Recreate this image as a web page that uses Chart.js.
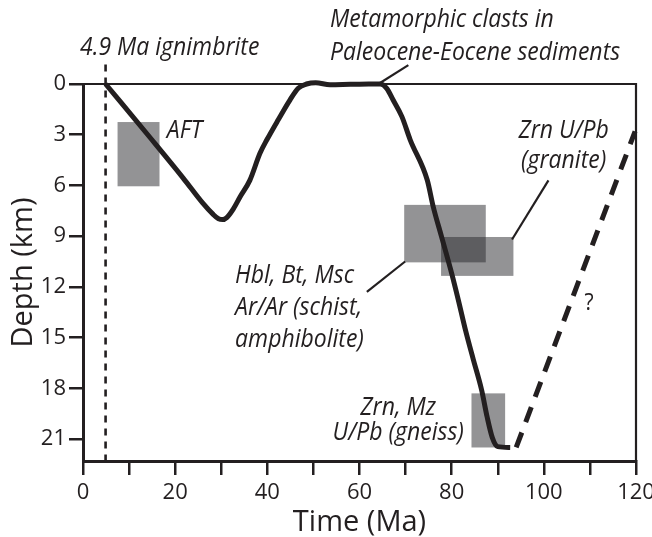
<!DOCTYPE html>
<html>
<head>
<meta charset="utf-8">
<script src="https://cdn.jsdelivr.net/npm/chart.js@4.4.0/dist/chart.umd.min.js"></script>
<style>
  html, body { margin:0; padding:0; background:#fff; }
  #wrap { width:652px; height:537px; }
</style>
</head>
<body>
<div id="wrap"><canvas id="chart" width="652" height="537"></canvas></div>
<script>
/* Burial / exhumation path: depth (km) vs time (Ma), with thermochronology boxes. */
const INK = "#231f20";
const BOX_FILL = "rgba(40,40,44,0.5)";
const FONT = "'Open Sans', 'Noto Sans', sans-serif";

// axes
const X_TICKS = [0, 10, 20, 30, 40, 50, 60, 70, 80, 90, 100, 110, 120];
const X_TICK_LABELS = ["0", "", "20", "", "40", "", "60", "", "80", "", "100", "", "120"];
const Y_TICKS = [0, 3, 6, 9, 12, 15, 18, 21];
const Y_TICK_LABELS = ["0", "3", "6", "9", "12", "15", "18", "21"];

// solid t-z path
const PATH_MA    = [4.9, 14.5, 21.7, 26.0, 28.2, 29.4, 30.3, 31.2, 32.6, 34.1, 36.2, 38.4, 39.9, 42.4, 44.9, 46.7, 48.5, 50.5, 53.6, 58.0, 62.0, 64.5, 65.9, 67.3, 69.2, 71.0, 74.7, 76.0, 77.8, 80.0, 81.45, 83.0, 84.7, 86.5, 87.7, 88.8, 90.0, 92.7];
const PATH_DEPTH = [0, 3.15, 5.55, 7.05, 7.7, 7.97, 8.02, 7.9, 7.4, 6.67, 5.7, 4.1, 3.3, 2.1, 0.95, 0.25, 0.0, -0.08, 0.05, 0.02, 0.0, 0.0, 0.26, 0.95, 1.93, 3.3, 5.68, 7.26, 9.03, 11.2, 12.78, 14.56, 16.3, 18.1, 19.7, 20.9, 21.45, 21.5];

// uncertain (dashed) path
const DASH_MA    = [94.0, 119.8];
const DASH_DEPTH = [21.5, 2.8];

// 4.9 Ma ignimbrite marker
const IGN_MA = [4.9, 4.9];
const IGN_DEPTH = [-1.15, 22.3];

// age / depth boxes: AFT, Ar/Ar, Zrn granite, Zrn+Mz gneiss
const BOX_MA_MIN = [7.5, 69.7, 77.7, 84.3];
const BOX_MA_MAX = [16.6, 87.4, 93.4, 91.6];
const BOX_DEPTH_TOP = [2.25, 7.15, 9.05, 18.3];
const BOX_DEPTH_BOTTOM = [6.05, 10.55, 11.35, 21.5];

// annotation text (data coords) and leader lines
const NOTES = [
  { t: "4.9 Ma ignimbrite", x: -0.65, y: -1.72, a: "left" },
  { t: "Metamorphic clasts in", x: 53.6, y: -3.37, a: "left" },
  { t: "Paleocene-Eocene sediments", x: 53.6, y: -1.42, a: "left" },
  { t: "AFT", x: 18.2, y: 3.2, a: "left" },
  { t: "Zrn U/Pb", x: 104.3, y: 3.2, a: "center" },
  { t: "(granite)", x: 104.3, y: 4.97, a: "center" },
  { t: "Hbl, Bt, Msc", x: 33.0, y: 11.78, a: "left" },
  { t: "Ar/Ar (schist,", x: 33.0, y: 13.67, a: "left" },
  { t: "amphibolite)", x: 33.0, y: 15.56, a: "left" },
  { t: "Zrn, Mz", x: 68.4, y: 19.59, a: "center" },
  { t: "U/Pb (gneiss)", x: 68.4, y: 21.07, a: "center" },
  { t: "?", x: 109.8, y: 13.37, a: "center", upright: true },
];
const LEADERS = [
  [64.1, 0.0, 70.6, -1.12],
  [101.0, 5.7, 93.1, 9.2],
  [61.6, 12.3, 69.9, 10.5],
];

const toXY = (xs, ys) => xs.map((v, i) => ({ x: v, y: ys[i] }));

const sketch = {
  id: "sketch",
  beforeDatasetsDraw(chart) {
    const { ctx, chartArea: a, scales: { x, y } } = chart;
    ctx.save();
    // top + right frame
    ctx.strokeStyle = INK; ctx.lineWidth = 2.2;
    ctx.beginPath();
    ctx.moveTo(a.left - 10, a.top); ctx.lineTo(a.right, a.top); ctx.lineTo(a.right, a.bottom);
    ctx.stroke();
    // boxes
    ctx.fillStyle = BOX_FILL;
    BOX_MA_MIN.forEach((m, i) => {
      const x0 = x.getPixelForValue(m), x1 = x.getPixelForValue(BOX_MA_MAX[i]);
      const y0 = y.getPixelForValue(BOX_DEPTH_TOP[i]), y1 = y.getPixelForValue(BOX_DEPTH_BOTTOM[i]);
      ctx.fillRect(x0, y0, x1 - x0, y1 - y0);
    });
    ctx.restore();
  },
  afterDatasetsDraw(chart) {
    const { ctx, scales: { x, y } } = chart;
    ctx.save();
    ctx.strokeStyle = INK; ctx.lineWidth = 2.2;
    LEADERS.forEach(l => {
      ctx.beginPath();
      ctx.moveTo(x.getPixelForValue(l[0]), y.getPixelForValue(l[1]));
      ctx.lineTo(x.getPixelForValue(l[2]), y.getPixelForValue(l[3]));
      ctx.stroke();
    });
    ctx.fillStyle = INK;
    ctx.textBaseline = "alphabetic";
    ctx.textAlign = "left";
    NOTES.forEach(n => {
      ctx.font = n.upright ? "23px " + FONT : "italic 25px " + FONT;
      const px = x.getPixelForValue(n.x), py = y.getPixelForValue(n.y);
      const w = ctx.measureText(n.t).width;
      ctx.save();
      ctx.translate(px, py);
      ctx.scale(0.92, 1);   // Myriad-ish narrow set
      ctx.fillText(n.t, n.a === "center" ? -w / 2 : 0, 0);
      ctx.restore();
    });
    ctx.restore();
  }
};

new Chart(document.getElementById("chart"), {
  type: "line",
  data: {
    datasets: [
      { data: toXY(IGN_MA, IGN_DEPTH), borderColor: INK, borderWidth: 2.6, borderDash: [7, 6],
        pointRadius: 0, clip: false },
      { data: toXY(PATH_MA, PATH_DEPTH), borderColor: INK, borderWidth: 5, pointRadius: 0,
        cubicInterpolationMode: "monotone", borderJoinStyle: "round", borderCapStyle: "butt", clip: false },
      { data: toXY(DASH_MA, DASH_DEPTH), borderColor: INK, borderWidth: 5, borderDash: [16, 11],
        pointRadius: 0, borderCapStyle: "butt", clip: false },
    ]
  },
  options: {
    responsive: false,
    animation: false,
    layout: { padding: { top: 84, right: 16, left: 0, bottom: 0 } },
    plugins: { legend: { display: false }, tooltip: { enabled: false } },
    scales: {
      x: {
        type: "linear", min: 0, max: 120,
        afterBuildTicks: s => { s.ticks = X_TICKS.map(v => ({ value: v })); },
        afterFit: s => { s.height = 76; s.paddingLeft = 0; s.paddingRight = 0; },
        ticks: { callback: (v, i) => X_TICK_LABELS[i], color: INK, font: { family: FONT, size: 22 },
                 padding: 5, maxRotation: 0, autoSkip: false },
        grid: { drawOnChartArea: false, drawTicks: true, tickLength: 14, lineWidth: 2.5, color: INK },
        border: { display: true, width: 3, color: INK },
        title: { display: true, text: "Time (Ma)", color: INK, align: "center",
                 font: { family: FONT, size: 29, lineHeight: 1 }, padding: { top: 0, bottom: 0 } }
      },
      y: {
        type: "linear", min: 0, max: 22.3, reverse: true,
        afterBuildTicks: s => { s.ticks = Y_TICKS.map(v => ({ value: v })); },
        afterFit: s => { s.width = 83; },
        ticks: { callback: (v, i) => Y_TICK_LABELS[i], color: INK, font: { family: FONT, size: 22 },
                 padding: 3, autoSkip: false },
        grid: { drawOnChartArea: false, drawTicks: true, tickLength: 14, lineWidth: 2.5, color: INK },
        border: { display: true, width: 3, color: INK },
        title: { display: true, text: "Depth (km)", color: INK,
                 font: { family: FONT, size: 29, lineHeight: 1 }, padding: { top: 9, bottom: 0 } }
      }
    }
  },
  plugins: [sketch]
});
</script>
</body>
</html>
